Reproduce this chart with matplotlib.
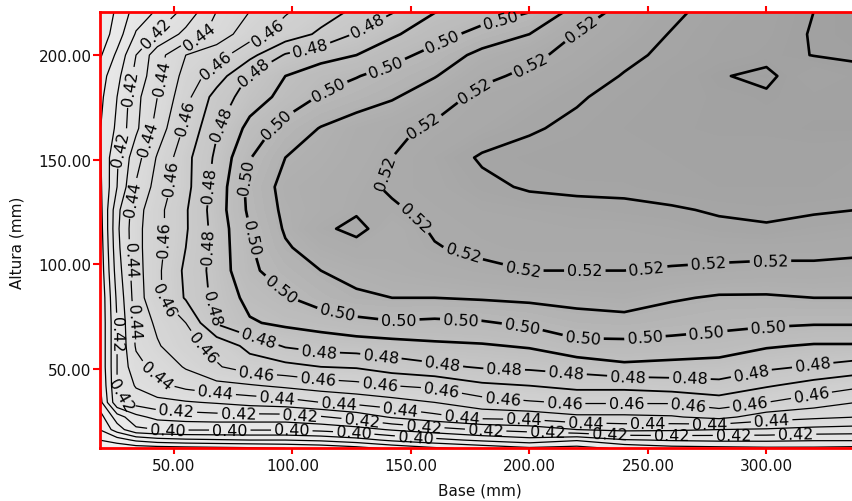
import numpy as np
import matplotlib
matplotlib.use("Agg")
import matplotlib.pyplot as plt
from matplotlib.colors import LinearSegmentedColormap, Normalize

plt.rcParams['font.family'] = ['DejaVu Sans']

# ---- data (Base in mm, Altura in mm, value grid) ----
base_mm = [18.5, 26, 34, 43, 55, 68, 82, 97, 112, 127, 142, 160, 180, 200, 220, 240, 260, 280, 300, 320, 338]
altura_mm = [12, 16, 21, 27, 34, 42, 51, 61, 72, 84, 97, 108, 117, 126, 137, 151, 165, 180, 190, 200, 210, 221]

row_012 = [0.350, 0.352, 0.354, 0.355, 0.356, 0.357, 0.358, 0.360, 0.362, 0.366, 0.372, 0.378, 0.383, 0.388, 0.386, 0.392, 0.396, 0.397, 0.398, 0.398, 0.397]
row_016 = [0.360, 0.365, 0.372, 0.376, 0.378, 0.379, 0.380, 0.380, 0.382, 0.386, 0.392, 0.397, 0.402, 0.406, 0.401, 0.409, 0.411, 0.412, 0.412, 0.411, 0.411]
row_021 = [0.370, 0.385, 0.398, 0.400, 0.401, 0.401, 0.401, 0.401, 0.403, 0.406, 0.411, 0.416, 0.421, 0.424, 0.430, 0.433, 0.432, 0.430, 0.429, 0.427, 0.426]
row_027 = [0.375, 0.395, 0.407, 0.413, 0.415, 0.416, 0.416, 0.416, 0.419, 0.424, 0.431, 0.437, 0.443, 0.444, 0.448, 0.448, 0.449, 0.453, 0.445, 0.442, 0.440]
row_034 = [0.385, 0.418, 0.424, 0.427, 0.429, 0.431, 0.434, 0.436, 0.440, 0.443, 0.446, 0.450, 0.456, 0.459, 0.461, 0.461, 0.461, 0.465, 0.460, 0.455, 0.450]
row_042 = [0.388, 0.420, 0.431, 0.437, 0.443, 0.447, 0.449, 0.452, 0.455, 0.457, 0.460, 0.462, 0.468, 0.470, 0.473, 0.473, 0.475, 0.477, 0.471, 0.466, 0.462]
row_051 = [0.390, 0.420, 0.437, 0.443, 0.451, 0.459, 0.465, 0.467, 0.470, 0.471, 0.475, 0.478, 0.481, 0.482, 0.484, 0.488, 0.487, 0.486, 0.482, 0.479, 0.476]
row_061 = [0.390, 0.420, 0.441, 0.449, 0.457, 0.463, 0.473, 0.481, 0.484, 0.485, 0.486, 0.488, 0.489, 0.491, 0.497, 0.497, 0.496, 0.495, 0.491, 0.489, 0.489]
row_072 = [0.390, 0.420, 0.443, 0.452, 0.460, 0.481, 0.489, 0.492, 0.494, 0.497, 0.499, 0.498, 0.499, 0.502, 0.506, 0.507, 0.505, 0.503, 0.502, 0.501, 0.501]
row_084 = [0.390, 0.422, 0.445, 0.458, 0.471, 0.483, 0.493, 0.499, 0.505, 0.509, 0.510, 0.510, 0.511, 0.512, 0.513, 0.514, 0.511, 0.509, 0.509, 0.510, 0.510]
row_097 = [0.392, 0.425, 0.446, 0.458, 0.472, 0.484, 0.498, 0.505, 0.510, 0.512, 0.514, 0.516, 0.518, 0.520, 0.520, 0.520, 0.519, 0.518, 0.517, 0.517, 0.516]
row_108 = [0.393, 0.427, 0.447, 0.457, 0.470, 0.484, 0.499, 0.509, 0.514, 0.5175, 0.516, 0.5195, 0.522, 0.523, 0.523, 0.523, 0.524, 0.524, 0.524, 0.524, 0.523]
row_117 = [0.394, 0.428, 0.447, 0.457, 0.469, 0.484, 0.500, 0.511, 0.5185, 0.522, 0.516, 0.521, 0.523, 0.524, 0.525, 0.525, 0.526, 0.528, 0.529, 0.527, 0.526]
row_126 = [0.395, 0.427, 0.446, 0.457, 0.469, 0.485, 0.502, 0.512, 0.515, 0.519, 0.519, 0.522, 0.525, 0.526, 0.527, 0.528, 0.529, 0.531, 0.532, 0.531, 0.530]
row_137 = [0.397, 0.420, 0.441, 0.454, 0.467, 0.484, 0.503, 0.513, 0.515, 0.518, 0.521, 0.524, 0.528, 0.531, 0.532, 0.532, 0.534, 0.535, 0.535, 0.535, 0.534]
row_151 = [0.398, 0.419, 0.436, 0.451, 0.467, 0.482, 0.4995, 0.510, 0.513, 0.516, 0.520, 0.525, 0.531, 0.533, 0.534, 0.535, 0.535, 0.536, 0.536, 0.536, 0.535]
row_165 = [0.399, 0.412, 0.428, 0.444, 0.462, 0.479, 0.493, 0.504, 0.5105, 0.515, 0.518, 0.5215, 0.525, 0.529, 0.532, 0.535, 0.537, 0.538, 0.538, 0.539, 0.539]
row_180 = [0.397, 0.410, 0.427, 0.440, 0.457, 0.474, 0.485, 0.493, 0.501, 0.505, 0.509, 0.5155, 0.5225, 0.525, 0.529, 0.533, 0.536, 0.538, 0.539, 0.538, 0.538]
row_190 = [0.395, 0.407, 0.423, 0.437, 0.454, 0.465, 0.481, 0.490, 0.496, 0.4995, 0.504, 0.5095, 0.518, 0.522, 0.526, 0.5305, 0.535, 0.5395, 0.5415, 0.535, 0.538]
row_200 = [0.388, 0.402, 0.420, 0.436, 0.450, 0.456, 0.467, 0.481, 0.486, 0.490, 0.4965, 0.5035, 0.513, 0.518, 0.523, 0.528, 0.532, 0.536, 0.538, 0.5402, 0.541]
row_210 = [0.383, 0.395, 0.411, 0.421, 0.433, 0.444, 0.456, 0.464, 0.472, 0.481, 0.4885, 0.496, 0.5035, 0.510, 0.5205, 0.525, 0.5305, 0.535, 0.537, 0.5405, 0.542]
row_221 = [0.380, 0.392, 0.404, 0.411, 0.423, 0.440, 0.450, 0.459, 0.465, 0.472, 0.479, 0.4895, 0.4945, 0.4995, 0.5135, 0.5235, 0.528, 0.5335, 0.5365, 0.540, 0.5425]

x_ticks = [50, 100, 150, 200, 250, 300]
y_ticks = [50, 100, 150, 200]
x_label = "Base (mm)"
y_label = "Altura (mm)"

Z = np.array([row_012, row_016, row_021, row_027, row_034, row_042, row_051, row_061,
              row_072, row_084, row_097, row_108, row_117, row_126, row_137, row_151,
              row_165, row_180, row_190, row_200, row_210, row_221])
X, Y = np.meshgrid(base_mm, altura_mm)

# ---- figure ----
W, H = 853, 502
fig = plt.figure(figsize=(W / 100, H / 100), dpi=100)
ax = fig.add_axes([100 / W, 1 - 449 / H, 756.5 / W, 436 / H])
ax.set_xlim(18.8, 338)
ax.set_ylim(12.2, 220.6)

# smooth grey shading (fine fill levels), darker for higher values
vmin, vmax = 0.34, 0.55
ramp_v = [0.34, 0.36, 0.40, 0.44, 0.46, 0.48, 0.50, 0.51, 0.52, 0.53, 0.55]
ramp_g = [0.945, 0.94, 0.91, 0.86, 0.82, 0.775, 0.725, 0.695, 0.67, 0.65, 0.615]
nodes = [(v - vmin) / (vmax - vmin) for v in ramp_v]
cmap = LinearSegmentedColormap.from_list(
    'greys_ref', [(n, (g, g, g)) for n, g in zip(nodes, ramp_g)])
fill_levels = np.linspace(vmin, vmax, 169)
ax.contourf(X, Y, Z, levels=fill_levels, cmap=cmap, norm=Normalize(vmin, vmax),
            antialiased=False)

levels = np.round(np.arange(0.35, 0.5451, 0.01), 2)
lws = [0.9 if l < 0.465 else (1.3 if l < 0.485 else 1.9) for l in levels]
cs = ax.contour(X, Y, Z, levels=levels, colors='black', linewidths=lws)

# label positions: spaced evenly along each even-valued contour path
label_levels = [l for l in levels if 0.395 <= l <= 0.525 and int(round(l * 100)) % 2 == 0]
bb = ax.bbox
positions = []
spacing, start = 62, 32
for i, lev in enumerate(cs.levels):
    if not any(np.isclose(lev, label_levels)):
        continue
    for seg in cs.allsegs[i]:
        if len(seg) < 2:
            continue
        disp = ax.transData.transform(seg)
        d = np.r_[0, np.cumsum(np.hypot(*np.diff(disp, axis=0).T))]
        if d[-1] < 90:
            continue
        for s in np.arange(start, d[-1] - 18, spacing):
            j = int(np.clip(np.searchsorted(d, s), 1, len(seg) - 1))
            t = (s - d[j - 1]) / max(d[j] - d[j - 1], 1e-9)
            pd = disp[j - 1] + t * (disp[j] - disp[j - 1])
            if (pd[0] < bb.x0 + 16 or pd[1] < bb.y0 + 8 or pd[0] > W - 24
                    or pd[1] > bb.y1 - 8):
                continue
            if np.isclose(lev, 0.40) and pd[1] > bb.y0 + 40:
                continue
            positions.append(tuple(seg[j - 1] + t * (seg[j] - seg[j - 1])))
cs.clabel(manual=positions, fmt='%.2f', fontsize=11.5, inline=True, inline_spacing=3,
          colors='black')

# ---- frame and ticks ----
for side in ['left', 'bottom', 'top']:
    ax.spines[side].set_color('red')
    ax.spines[side].set_linewidth(2.0)
ax.spines['right'].set_visible(False)
ax.set_xticks(x_ticks)
ax.set_yticks(y_ticks)
ax.set_xticklabels([f"{v:.2f}" for v in x_ticks])
ax.set_yticklabels([f"{v:.2f}" for v in y_ticks])
ax.tick_params(axis='both', direction='out', color='red', width=1.5, labelsize=11,
               labelcolor='#111111')
ax.tick_params(axis='x', length=4, pad=3, top=True, labeltop=False)
ax.tick_params(axis='y', length=5, pad=1)

fig.text(480 / W, 1 - 491 / H, x_label, ha='center', va='center', fontsize=11, color='#111111')
fig.text(17 / W, 1 - 243 / H, y_label, ha='center', va='center', rotation=90, fontsize=11,
         color='#111111')

fig.savefig("out.png", dpi=100)
